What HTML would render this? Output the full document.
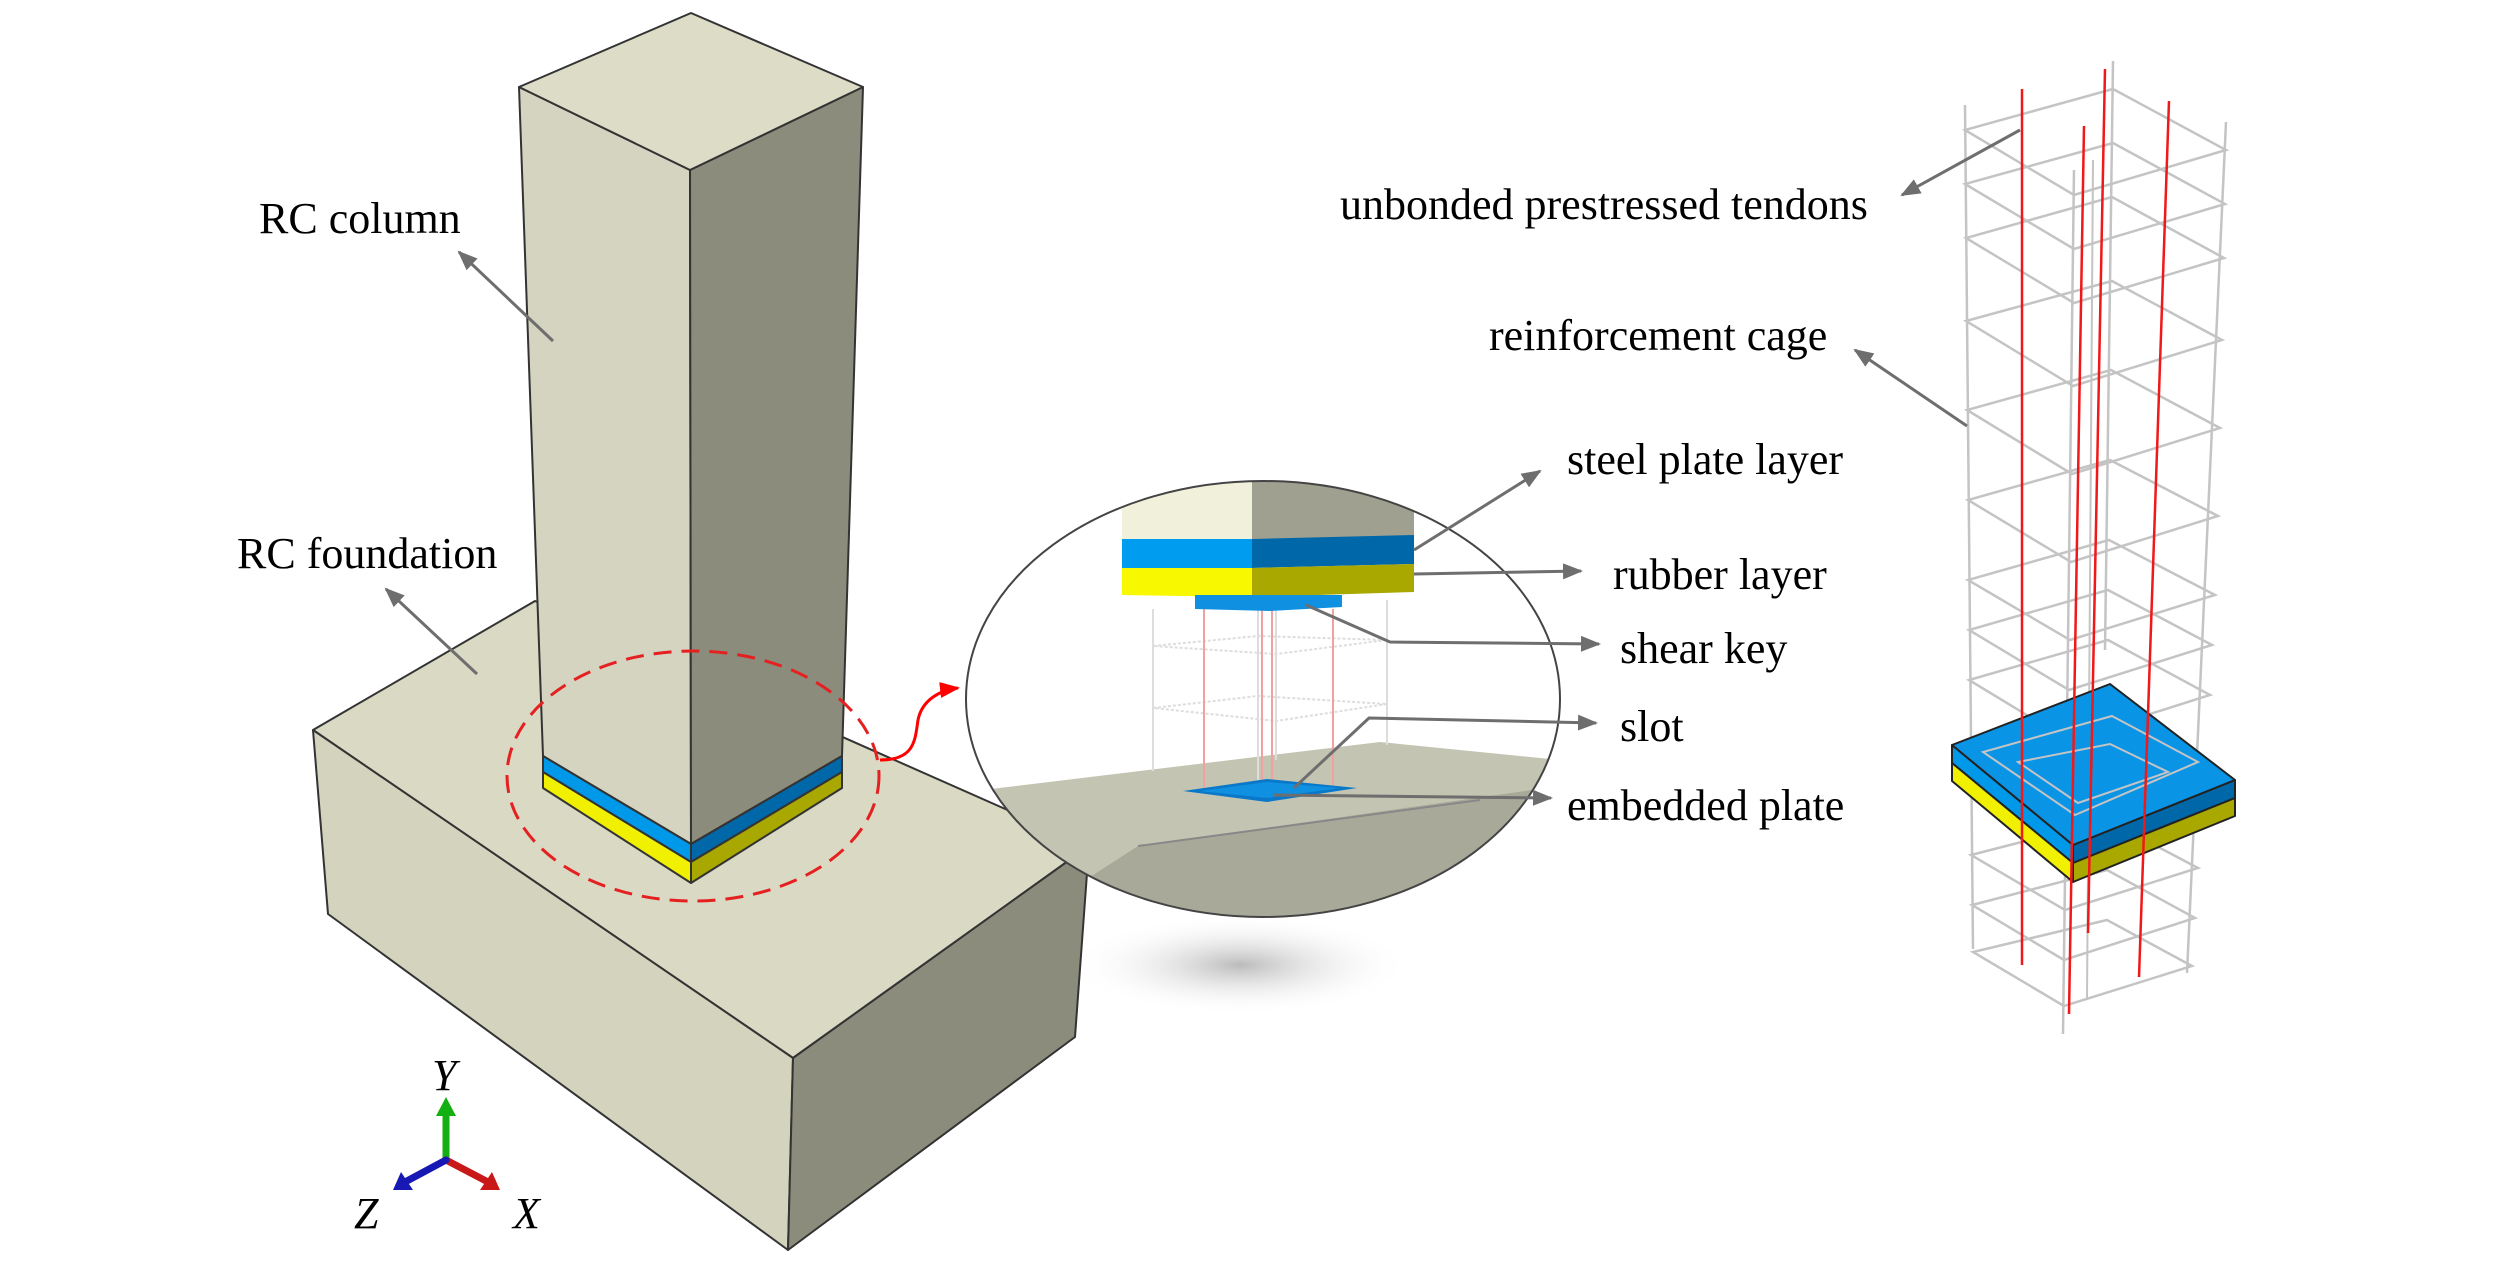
<!DOCTYPE html>
<html><head><meta charset="utf-8"><style>
html,body{margin:0;padding:0;background:#fff;}
svg{display:block;}
text{font-family:"Liberation Serif",serif;font-size:44px;fill:#000;}
</style></head><body>
<svg width="2520" height="1272" viewBox="0 0 2520 1272" xmlns="http://www.w3.org/2000/svg">
<defs>
<marker id="ahb" markerWidth="20" markerHeight="16" refX="18" refY="8" orient="auto" markerUnits="userSpaceOnUse" viewBox="0 0 20 16"><path d="M0,0 L20,8 L0,16 z" fill="#6e6e6e"/></marker>
<marker id="ahr" markerWidth="20" markerHeight="16" refX="18" refY="8" orient="auto" markerUnits="userSpaceOnUse" viewBox="0 0 20 16"><path d="M0,0 L20,8 L0,16 z" fill="#f00"/></marker>
<radialGradient id="sh" cx="0.5" cy="0.5" r="0.5"><stop offset="0" stop-color="#bbb"/><stop offset="1" stop-color="#fff" stop-opacity="0"/></radialGradient>
<clipPath id="cc"><ellipse cx="1263" cy="699" rx="297" ry="218"/></clipPath>
</defs>

<ellipse cx="1240" cy="965" rx="170" ry="50" fill="url(#sh)"/>

<g stroke="#333" stroke-width="2" stroke-linejoin="round">
<polygon points="313,730 535,601 1089,846 793,1058" fill="#d9d9c4"/>
<polygon points="313,730 793,1058 788,1250 328,914" fill="#d3d3be"/>
<polygon points="793,1058 1089,846 1075,1037 788,1250" fill="#8c8c7c"/>
</g>
<g stroke="#333" stroke-width="2" stroke-linejoin="round">
<polygon points="519,87 690,170 691,844 543,756" fill="#d4d4c0"/>
<polygon points="690,170 863,87 842,756 691,844" fill="#8c8c7c"/>
<polygon points="691,13 863,87 690,170 519,87" fill="#dcdcc7"/>
<polygon points="543,756 691,844 691,862 543,772" fill="#0098e8"/>
<polygon points="691,844 842,756 842,772 691,862" fill="#0068a8"/>
<polygon points="543,772 691,862 691,883 543,788" fill="#f0f000"/>
<polygon points="691,862 842,772 842,788 691,883" fill="#a8a800"/>
</g>
<ellipse cx="693" cy="776" rx="186" ry="125" fill="none" stroke="#e52020" stroke-width="3" stroke-dasharray="18,10"/>
<path d="M880,760 C915,760 915,740 918,720 C922,700 940,690 958,688" fill="none" stroke="#f00" stroke-width="3" marker-end="url(#ahr)"/>

<text x="259" y="233">RC column</text>
<line x1="553" y1="341" x2="459" y2="252" stroke="#6e6e6e" stroke-width="3" marker-end="url(#ahb)"/>
<text x="237" y="568">RC foundation</text>
<line x1="477" y1="674" x2="386" y2="589" stroke="#6e6e6e" stroke-width="3" marker-end="url(#ahb)"/>

<g stroke-width="7" stroke-linecap="round">
<line x1="446" y1="1160" x2="446" y2="1115" stroke="#12b012"/>
<line x1="446" y1="1160" x2="488" y2="1182" stroke="#c81818"/>
<line x1="446" y1="1160" x2="405" y2="1182" stroke="#1818b4"/>
</g>
<polygon points="446,1097 436,1116 456,1116" fill="#12b012"/>
<polygon points="500,1190 480,1190 492,1172" fill="#c81818"/>
<polygon points="393,1190 413,1190 401,1172" fill="#1818b4"/>
<text x="432" y="1090" style="font-style:italic">Y</text>
<text x="354" y="1228" style="font-style:italic">Z</text>
<text x="513" y="1228" style="font-style:italic">X</text>

<ellipse cx="1263" cy="699" rx="297" ry="218" fill="#fff"/>
<g clip-path="url(#cc)">
<polygon points="900,800 1380,742 1560,760 1560,1000 900,1000" fill="#c4c4b2"/>
<polygon points="1138,846 1560,786 1560,1000 900,1000" fill="#a9a99a"/>
<line x1="1138" y1="846" x2="1480" y2="800" stroke="#888" stroke-width="2"/>
<g stroke="#ddd" stroke-width="2" fill="none">
<line x1="1153" y1="609" x2="1153" y2="771"/><line x1="1258" y1="609" x2="1258" y2="780"/><line x1="1387" y1="600" x2="1387" y2="745"/><line x1="1276" y1="600" x2="1276" y2="760"/>
<polygon points="1153,646 1258,636 1387,640 1276,654" stroke-dasharray="3,2"/>
<polygon points="1153,708 1258,696 1387,704 1276,721" stroke-dasharray="3,2"/>
</g>
<g stroke="#f2a0a0" stroke-width="2">
<line x1="1204" y1="609" x2="1204" y2="790"/><line x1="1262" y1="609" x2="1262" y2="795"/><line x1="1272" y1="609" x2="1272" y2="795"/><line x1="1333" y1="609" x2="1333" y2="785"/>
</g>
<polygon points="1183,791 1267,779 1357,788 1267,802" fill="#0a78c8"/>
<polygon points="1200,791 1267,782 1340,788 1267,798" fill="#1090e0"/>
<polygon points="1122,470 1252,470 1252,539 1122,539" fill="#f1f0da"/>
<polygon points="1252,470 1414,470 1414,539 1252,539" fill="#a0a090"/>
<polygon points="1122,539 1252,539 1252,568 1122,568" fill="#009cf0"/>
<polygon points="1252,539 1414,535 1414,564 1252,568" fill="#0068a8"/>
<polygon points="1122,568 1252,568 1252,597 1122,595" fill="#f8f800"/>
<polygon points="1252,568 1414,564 1414,592 1252,597" fill="#a8a800"/>
<polygon points="1195,595 1342,595 1342,607 1270,611 1195,609" fill="#1090e0"/>
</g>
<ellipse cx="1263" cy="699" rx="297" ry="218" fill="none" stroke="#444" stroke-width="2"/>

<g stroke="#6e6e6e" stroke-width="3" fill="none">
<polyline points="1414,550 1540,471" marker-end="url(#ahb)"/>
<polyline points="1414,574 1581,571" marker-end="url(#ahb)"/>
<polyline points="1306,605 1390,642 1599,644" marker-end="url(#ahb)"/>
<polyline points="1294,788 1369,718 1596,723" marker-end="url(#ahb)"/>
<polyline points="1273,795 1551,798" marker-end="url(#ahb)"/>
</g>
<text x="1567" y="474">steel plate layer</text>
<text x="1613" y="589">rubber layer</text>
<text x="1620" y="663">shear key</text>
<text x="1620" y="741">slot</text>
<text x="1567" y="820">embedded plate</text>

<g stroke="#c4c4c4" stroke-width="2.5" fill="none">
<line x1="1965" y1="105" x2="1973" y2="949"/>
<line x1="2074" y1="170" x2="2063" y2="1034"/>
<line x1="2226" y1="122" x2="2187" y2="973"/>
<line x1="2113" y1="61" x2="2105" y2="650"/>
<line x1="2093" y1="160" x2="2087" y2="1000" stroke-width="2"/>
<polygon points="2113,89 2226,150 2074,195 1965,130"/>
<polygon points="2113,143 2225,204 2074,249 1965,184"/>
<polygon points="2112,197 2224,258 2074,303 1966,238"/>
<polygon points="2112,281 2222,340 2073,386 1966,321"/>
<polygon points="2111,370 2220,428 2072,474 1967,410"/>
<polygon points="2110,460 2218,516 2071,562 1968,500"/>
<polygon points="2109,540 2215,595 2070,640 1968,580"/>
<polygon points="2108,590 2212,645 2069,690 1969,630"/>
<polygon points="2108,640 2210,695 2068,740 1969,680"/>
<polygon points="2107,820 2198,868 2065,910 1971,855"/>
<polygon points="2107,870 2195,918 2064,960 1972,905"/>
<polygon points="2107,920 2192,966 2064,1006 1973,952"/>
</g>
<g stroke="#222" stroke-width="2" stroke-linejoin="round">
<polygon points="1952,745 2073,845 2073,863 1952,763" fill="#0098e8"/>
<polygon points="2073,845 2235,780 2235,798 2073,863" fill="#0068a8"/>
<polygon points="1952,763 2073,863 2073,882 1952,781" fill="#f0f000"/>
<polygon points="2073,863 2235,798 2235,816 2073,882" fill="#a8a800"/>
<polygon points="1952,745 2110,684 2235,780 2073,845" fill="#0a94e6"/>
</g>
<g stroke="#c4c4c4" stroke-width="2" fill="none">
<polygon points="2112,716 2198,762 2075,815 1983,752"/>
<polygon points="2110,744 2168,772 2078,803 2018,762"/>
</g>
<g stroke="#f01818" stroke-width="2.5">
<line x1="2022" y1="89" x2="2022" y2="965"/>
<line x1="2105" y1="69" x2="2088" y2="933"/>
<line x1="2169" y1="101" x2="2139" y2="977"/>
<line x1="2084" y1="126" x2="2069" y2="1014"/>
</g>
<g stroke="#6e6e6e" stroke-width="3">
<line x1="2020" y1="130" x2="1902" y2="195" marker-end="url(#ahb)"/>
<line x1="1967" y1="426" x2="1855" y2="350" marker-end="url(#ahb)"/>
</g>
<text x="1340" y="219">unbonded prestressed tendons</text>
<text x="1489" y="350">reinforcement cage</text>
</svg>
</body></html>
